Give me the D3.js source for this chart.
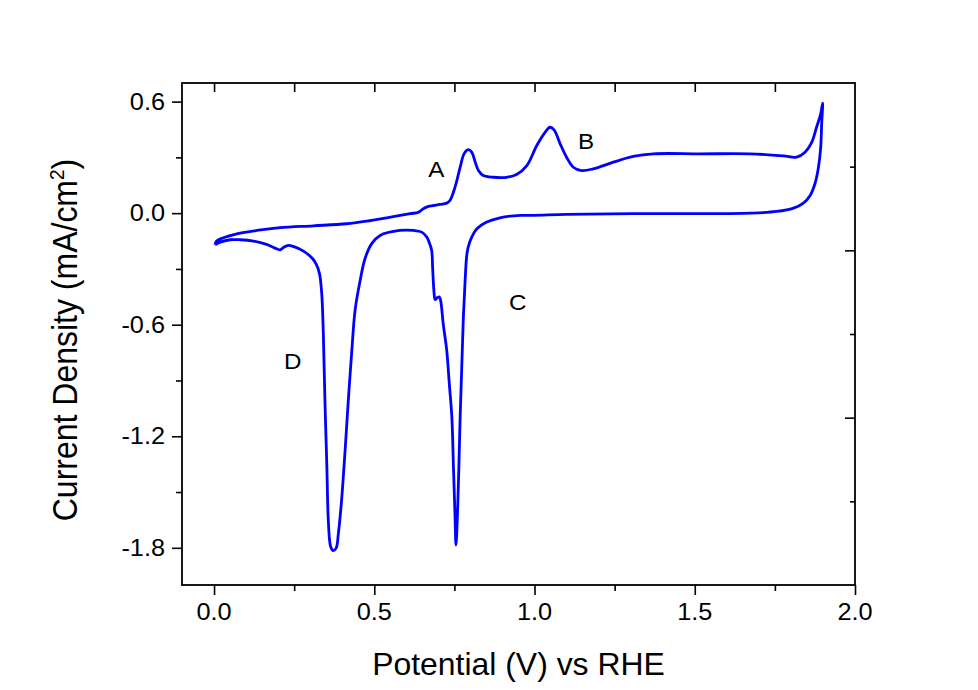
<!DOCTYPE html>
<html>
<head>
<meta charset="utf-8">
<script src="https://cdn.jsdelivr.net/npm/d3@7"></script>
<style>
  body { margin: 0; background: #fff; }
  text { font-family: "Liberation Sans", Arial, sans-serif; fill: #000; }
</style>
</head>
<body>
<div id="chart"></div>
<script>
var width = 978, height = 690;

// anodic sweep, 0 V -> 1.9 V
var anodicV = [0.003, 0.008, 0.029, 0.071, 0.133, 0.206, 0.310, 0.414, 0.476, 0.539,
               0.612, 0.638, 0.653, 0.669, 0.705, 0.726, 0.736, 0.752, 0.768, 0.780,
               0.793, 0.804, 0.815, 0.825, 0.840, 0.872, 0.913, 0.944, 0.976, 1.007,
               1.033, 1.048, 1.061, 1.080, 1.100, 1.121, 1.147, 1.183, 1.246, 1.308,
               1.371, 1.516, 1.672, 1.776, 1.818, 1.844, 1.865, 1.880, 1.893, 1.899];
var anodicJ = [-0.170, -0.150, -0.132, -0.111, -0.093, -0.078, -0.068, -0.057, -0.043, -0.025,
               -0.003, 0.005, 0.024, 0.036, 0.047, 0.054, 0.068, 0.140, 0.247, 0.319,
               0.342, 0.328, 0.274, 0.229, 0.202, 0.193, 0.193, 0.208, 0.256, 0.364,
               0.435, 0.462, 0.448, 0.373, 0.301, 0.247, 0.229, 0.238, 0.274, 0.305,
               0.319, 0.319, 0.319, 0.308, 0.301, 0.328, 0.381, 0.462, 0.534, 0.591];

// cathodic sweep, 1.9 V -> 0 V
var cathodicV = [1.896, 1.893, 1.886, 1.875, 1.860, 1.839, 1.808, 1.756, 1.672, 1.516,
                 1.308, 1.100, 0.996, 0.955, 0.892, 0.851, 0.820, 0.804, 0.793, 0.788,
                 0.783, 0.778, 0.773, 0.768, 0.764, 0.760, 0.755, 0.752, 0.747, 0.742,
                 0.734, 0.726, 0.715, 0.707, 0.703, 0.697, 0.690, 0.686, 0.682, 0.679,
                 0.671, 0.664, 0.648, 0.622, 0.580, 0.518, 0.492, 0.471, 0.456, 0.440,
                 0.430, 0.419, 0.409, 0.398, 0.388, 0.381, 0.372, 0.364, 0.357, 0.352,
                 0.346, 0.341, 0.336, 0.329, 0.318, 0.305, 0.279, 0.247, 0.232, 0.218,
                 0.206, 0.190, 0.164, 0.123, 0.081, 0.050, 0.019, 0.003];
var cathodicJ = [0.480, 0.354, 0.247, 0.158, 0.095, 0.054, 0.027, 0.009, 0.000, -0.003,
                 -0.003, -0.007, -0.012, -0.012, -0.025, -0.048, -0.084, -0.129, -0.183, -0.236,
                 -0.379, -0.558, -0.827, -1.095, -1.364, -1.597, -1.785, -1.633, -1.364, -1.095,
                 -0.916, -0.737, -0.594, -0.469, -0.451, -0.454, -0.465, -0.415, -0.290, -0.200,
                 -0.156, -0.129, -0.102, -0.093, -0.093, -0.120, -0.164, -0.245, -0.361, -0.523,
                 -0.737, -1.006, -1.274, -1.543, -1.722, -1.802, -1.815, -1.794, -1.668, -1.364,
                 -1.006, -0.648, -0.433, -0.325, -0.272, -0.240, -0.204, -0.179, -0.173, -0.183,
                 -0.197, -0.188, -0.168, -0.150, -0.143, -0.143, -0.156, -0.170];

var xMajor = [0, 0.5, 1.0, 1.5, 2.0];
var xMinor = [0.25, 0.75, 1.25, 1.75];
var yMajor = [0.6, 0.0, -0.6, -1.2, -1.8];
var yMinor = [0.3, -0.3, -0.9, -1.5];
var peakLabels = ["A", "B", "C", "D"];
var peakLabelV = [0.668, 1.136, 0.920, 0.218];
var peakLabelJ = [0.192, 0.347, -0.519, -0.837];

var plotL = 182, plotR = 855, plotT = 83, plotB = 585;
var SX = 1.1; // text in the source is a bit wide

var x = d3.scaleLinear().domain([-0.1, 2.0]).range([plotL, plotR]);
var y = d3.scaleLinear().domain([-2.0, 0.7]).range([plotB, plotT]);
// right-hand axis has its own tick spacing
var yRight = d3.scaleLinear().domain([-2, 1]).range([plotB, plotT]);

var svg = d3.select("#chart").append("svg")
            .attr("width", width)
            .attr("height", height);

function tickAxis(axis, tx, ty) {
  var g = svg.append("g").attr("transform", "translate(" + tx + "," + ty + ")").call(axis);
  g.select(".domain").remove();
  g.selectAll("line").attr("stroke", "#000").attr("stroke-width", 1.6);
  g.selectAll("text").remove();
  return g;
}

// bottom
tickAxis(d3.axisBottom(x).tickValues(xMajor).tickSize(10).tickSizeOuter(0), 0, plotB);
tickAxis(d3.axisBottom(x).tickValues(xMinor).tickSize(6).tickSizeOuter(0), 0, plotB);
// top (inward)
tickAxis(d3.axisTop(x).tickValues(xMajor.concat(xMinor).filter(function(v) { return v < 2; }))
          .tickSize(-9).tickSizeOuter(0), 0, plotT);
// left
tickAxis(d3.axisLeft(y).tickValues(yMajor).tickSize(10).tickSizeOuter(0), plotL, 0);
tickAxis(d3.axisLeft(y).tickValues(yMinor).tickSize(6).tickSizeOuter(0), plotL, 0);
// right (inward)
tickAxis(d3.axisRight(yRight).tickValues([0, -1]).tickSize(-10).tickSizeOuter(0), plotR, 0);
tickAxis(d3.axisRight(yRight).tickValues([0.5, -0.5, -1.5]).tickSize(-5).tickSizeOuter(0), plotR, 0);

// frame
svg.append("rect")
   .attr("x", plotL).attr("y", plotT)
   .attr("width", plotR - plotL).attr("height", plotB - plotT)
   .attr("fill", "none").attr("stroke", "#000").attr("stroke-width", 1.8);

// tick labels
svg.selectAll(".xlab").data(xMajor).enter().append("g")
   .attr("transform", function(d) { return "translate(" + x(d) + "," + (plotB + 35) + ") scale(" + SX + ",1)"; })
   .append("text")
   .attr("text-anchor", "middle")
   .style("font-size", "23px")
   .text(function(d) { return d.toFixed(1); });

svg.selectAll(".ylab").data(yMajor).enter().append("g")
   .attr("transform", function(d) { return "translate(" + (plotL - 17) + "," + (y(d) + 8) + ") scale(" + SX + ",1)"; })
   .append("text")
   .attr("text-anchor", "end")
   .style("font-size", "23px")
   .text(function(d) { return d.toFixed(1); });

// axis titles
svg.append("g")
   .attr("transform", "translate(" + ((plotL + plotR) / 2) + ",675) scale(1.03,1)")
   .append("text")
   .attr("text-anchor", "middle")
   .style("font-size", "31px")
   .text("Potential (V) vs RHE");

var yt = svg.append("g")
   .attr("transform", "translate(77,340) scale(" + SX + ",1) rotate(-90)")
   .append("text")
   .attr("text-anchor", "middle")
   .style("font-size", "32px");
yt.append("tspan").text("Current Density (mA/cm");
yt.append("tspan").attr("dy", -12).style("font-size", "19px").text("2");
yt.append("tspan").attr("dy", 12).text(")");

// the CV loop
var pts = anodicV.map(function(v, i) { return [v, anodicJ[i]]; })
  .concat(cathodicV.map(function(v, i) { return [v, cathodicJ[i]]; }));
pts.push(pts[0]);

var line = d3.line()
  .x(function(d) { return x(d[0]); })
  .y(function(d) { return y(d[1]); })
  .curve(d3.curveCatmullRom.alpha(0.5));

svg.append("path")
   .datum(pts)
   .attr("d", line)
   .attr("fill", "none")
   .attr("stroke", "#0000ff")
   .attr("stroke-width", 2.8)
   .attr("stroke-linejoin", "round");

// peak letters
svg.selectAll(".peak").data(peakLabels).enter().append("g")
   .attr("transform", function(d, i) { return "translate(" + x(peakLabelV[i]) + "," + y(peakLabelJ[i]) + ") scale(" + SX + ",1)"; })
   .append("text")
   .style("font-size", "22px")
   .text(function(d) { return d; });
</script>
</body>
</html>
